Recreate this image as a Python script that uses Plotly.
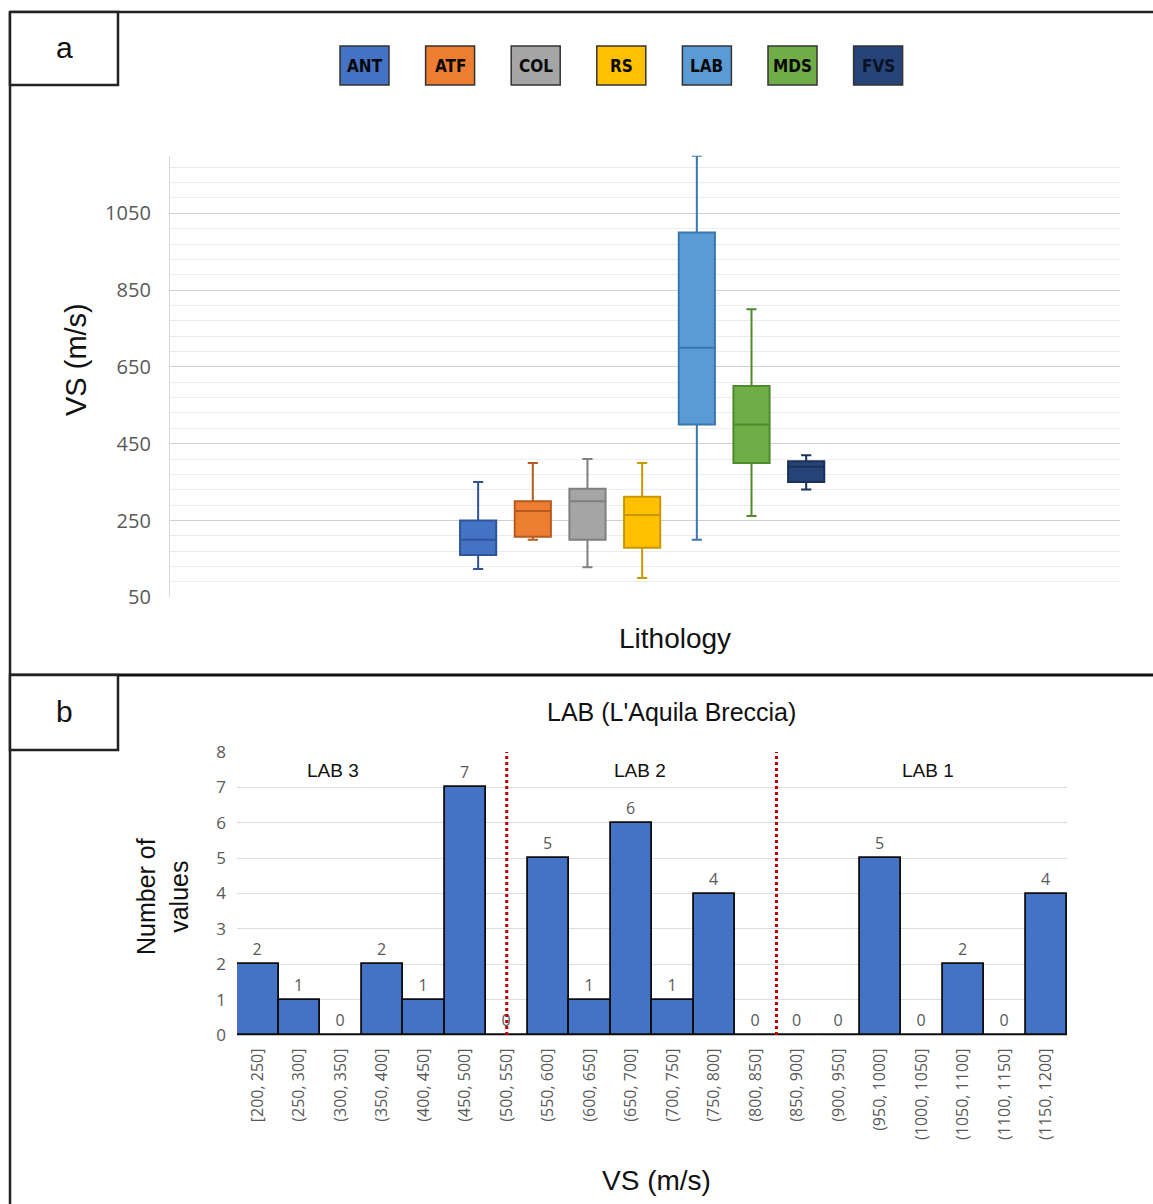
import plotly.graph_objects as go

# ---- Panel a: VS box plots by lithology ----
lithologies = ["ANT", "ATF", "COL", "RS", "LAB", "MDS", "FVS"]
vs_lower = [124, 200, 128, 100, 200, 262, 331]
vs_q1 = [160, 208, 200, 179, 500, 400, 350]
vs_median = [200, 275, 300, 264, 700, 500, 390]
vs_q3 = [250, 300, 333, 312, 1000, 600, 404]
vs_upper = [350, 400, 410, 400, 1200, 800, 420]
fill_colors = ["#4472C4", "#ED7D31", "#A5A5A5", "#FFC000", "#5B9BD5", "#70AD47", "#264478"]
edge_colors = ["#2F5597", "#B85A1E", "#7F7F7F", "#C99700", "#3C78B0", "#4E8A2E", "#1B3057"]

# ---- Panel b: LAB histogram ----
vs_bins = ["[200, 250]", "(250, 300]", "(300, 350]", "(350, 400]", "(400, 450]",
           "(450, 500]", "(500, 550]", "(550, 600]", "(600, 650]", "(650, 700]",
           "(700, 750]", "(750, 800]", "(800, 850]", "(850, 900]", "(900, 950]",
           "(950, 1000]", "(1000, 1050]", "(1050, 1100]", "(1100, 1150]", "(1150, 1200]"]
lab_counts = [2, 1, 0, 2, 1, 7, 0, 5, 1, 6, 1, 4, 0, 0, 0, 5, 0, 2, 0, 4]
group_names = ["LAB 3", "LAB 2", "LAB 1"]

W, H = 1153, 1204


def px(x):
    return x / W


def py(y):
    return 1 - y / H


TITLE_FONT = "Liberation Sans, Arial, sans-serif"
TICK_FONT = "Open Sans, Noto Sans, sans-serif"
GRAY = "#595959"

fig = go.Figure()

for i, name in enumerate(lithologies):
    fig.add_trace(go.Box(
        x=[name], q1=[vs_q1[i]], median=[vs_median[i]], q3=[vs_q3[i]],
        lowerfence=[vs_lower[i]], upperfence=[vs_upper[i]],
        name=name, fillcolor=fill_colors[i],
        line=dict(color=edge_colors[i], width=2),
        whiskerwidth=0.28, boxpoints=False, showlegend=False,
        xaxis="x", yaxis="y",
    ))

fig.add_trace(go.Bar(
    x=vs_bins, y=lab_counts, text=[str(v) for v in lab_counts],
    textposition="outside", cliponaxis=False,
    textfont=dict(family=TICK_FONT, size=16, color=GRAY),
    marker=dict(color="#4472C4", line=dict(color="#0D0D0D", width=1.8)),
    showlegend=False, xaxis="x2", yaxis="y2",
))

fig.update_layout(
    width=W, height=H,
    margin=dict(l=0, r=0, t=0, b=0, pad=0, autoexpand=False),
    paper_bgcolor="white", plot_bgcolor="white",
    boxmode="overlay", boxgap=0.055, bargap=0,
    xaxis=dict(
        domain=[px(170), px(1120)], anchor="y", type="category", automargin=False,
        categoryorder="array", categoryarray=lithologies,
        range=[-5.636, 11.74], showticklabels=False, showgrid=False,
        zeroline=False, showline=False, ticks="",
    ),
    yaxis=dict(
        domain=[py(597.3), py(155.7)], anchor="x", range=[50, 1200], automargin=False,
        tick0=50, dtick=200, showgrid=True, gridcolor="#D0D0D0", gridwidth=1.3,
        minor=dict(tick0=50, dtick=40, showgrid=True, gridcolor="#ECECEC", gridwidth=1),
        showline=True, linecolor="#D9D9D9", linewidth=1.3,
        zeroline=False, ticks="", ticklabelstandoff=14,
        tickfont=dict(family=TICK_FONT, size=20, color=GRAY),
    ),
    xaxis2=dict(
        domain=[px(237), px(1067)], anchor="y2", type="category", automargin=False,
        categoryorder="array", categoryarray=vs_bins,
        range=[-0.5, 19.5], tickangle=-90, showgrid=False, zeroline=False,
        showline=True, linecolor="#BFBFBF", linewidth=1.3, ticks="",
        ticklabelstandoff=6,
        tickfont=dict(family=TICK_FONT, size=16, color=GRAY),
    ),
    yaxis2=dict(
        domain=[py(1035), py(752)], anchor="x2", range=[0, 8], dtick=1, automargin=False,
        showgrid=True, gridcolor="#DDDDDD", gridwidth=1.2, zeroline=False,
        showline=False, ticks="", ticklabelstandoff=10,
        tickfont=dict(family=TICK_FONT, size=17, color=GRAY),
    ),
)

shapes = []
annotations = []


def label(x, y, text, size, color="#111111", family=TITLE_FONT, angle=0, xref="paper", yref="paper"):
    annotations.append(dict(xref=xref, yref=yref, x=x, y=y, text=text, showarrow=False,
                            xanchor="center", yanchor="middle", textangle=angle,
                            font=dict(family=family, size=size, color=color)))


# Panel frames and letter boxes
frame = dict(color="#222222", width=2.5)
shapes.append(dict(type="line", xref="paper", yref="paper", x0=px(10), x1=1, y0=py(12), y1=py(12), line=frame))
shapes.append(dict(type="line", xref="paper", yref="paper", x0=px(10), x1=px(10), y0=py(12), y1=0, line=frame))
shapes.append(dict(type="line", xref="paper", yref="paper", x0=px(10), x1=1, y0=py(675), y1=py(675),
                   line=dict(color="#111111", width=3)))
for y0, y1, letter in [(12, 85, "a"), (675, 750, "b")]:
    shapes.append(dict(type="rect", xref="paper", yref="paper", x0=px(10), x1=px(118),
                       y0=py(y1), y1=py(y0), line=frame, fillcolor="white"))
    label(px(64), py((y0 + y1) / 2 - 1), letter, 30)

# Panel a legend: coloured tiles with series names
for i, name in enumerate(lithologies):
    x0 = 340 + i * 85.6
    shapes.append(dict(type="rect", xref="paper", yref="paper", x0=px(x0), x1=px(x0 + 49),
                       y0=py(85), y1=py(46), fillcolor=fill_colors[i],
                       line=dict(color="#333333", width=1.5)))
    label(px(x0 + 24.5), py(66), "<b>%s</b>" % name, 17,
          color="#0A1226" if name == "FVS" else "#0A0A0A",
          family="DejaVu Sans Condensed, DejaVu Sans, sans-serif")

# Panel a axis titles
label(px(675), py(638), "Lithology", 28)
label(px(76), py(360), "VS (m/s)", 29, angle=-90)

# Panel b titles
label(px(672), py(712), "LAB (L'Aquila Breccia)", 25)
label(px(162), py(897), "Number of<br>values", 25, angle=-90)
label(px(657), py(1180), "VS (m/s)", 28)

# Panel b sub-unit separators and labels
for xpos in [6, 12.5]:
    shapes.append(dict(type="line", xref="x2", yref="y2", x0=xpos, x1=xpos, y0=0, y1=8.2,
                       line=dict(color="#C00000", width=3, dash="dot")))
for xpos, name in zip([1.81, 9.2, 16.15], group_names):
    label(xpos, 7.49, name, 19, xref="x2", yref="y2")

fig.update_layout(shapes=shapes, annotations=annotations)
fig.write_html("out.html")
